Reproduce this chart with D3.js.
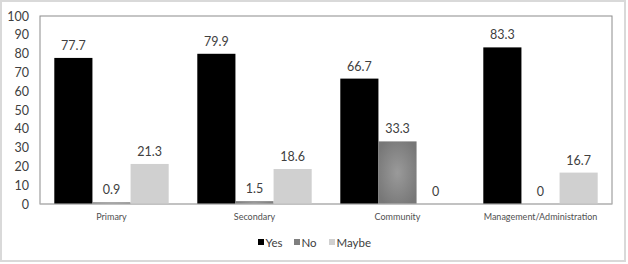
<!DOCTYPE html>
<html>
<head>
<meta charset="utf-8">
<script src="https://cdn.jsdelivr.net/npm/d3@7"></script>
<style>
  body { margin: 0; background: #fff; }
  svg text { font-family: Lato, "Open Sans", sans-serif; }
</style>
</head>
<body>
<div id="chart"></div>
<script>
// data
const categories = ["Primary", "Secondary", "Community", "Management/Administration"];
const seriesNames = ["Yes", "No", "Maybe"];
const yesValues = [77.7, 79.9, 66.7, 83.3];
const noValues = [0.9, 1.5, 33.3, 0];
const maybeValues = [21.3, 18.6, 0, 16.7];
const yTicks = [0, 10, 20, 30, 40, 50, 60, 70, 80, 90, 100];

const seriesValues = [yesValues, noValues, maybeValues];
const colors = ["#000000", "url(#noGrad)", "#d0d0d0"];
const legendColors = ["#000000", "#7f7f7f", "#d0d0d0"];

const width = 628, height = 264;
const plot = { left: 40, right: 612, top: 16, bottom: 204 };

const svg = d3.select("#chart")
  .append("svg")
  .attr("width", width)
  .attr("height", height);

// gradient for the "No" bars
const grad = svg.append("defs").append("radialGradient")
  .attr("id", "noGrad")
  .attr("cx", "50%").attr("cy", "50%").attr("r", "60%");
grad.append("stop").attr("offset", "0%").attr("stop-color", "#9a9a9a");
grad.append("stop").attr("offset", "100%").attr("stop-color", "#777777");

// outer frame
svg.append("rect")
  .attr("x", 1).attr("y", 1)
  .attr("width", width - 4).attr("height", height - 4)
  .attr("fill", "#fff")
  .attr("stroke", "#d9d9d9")
  .attr("stroke-width", 2);

const x0 = d3.scaleBand()
  .domain(categories)
  .range([plot.left, plot.right])
  .paddingInner(0.2)
  .paddingOuter(0.1);

const x1 = d3.scaleBand()
  .domain(seriesNames)
  .range([0, x0.bandwidth()])
  .padding(0);

const y = d3.scaleLinear()
  .domain([0, 100])
  .range([plot.bottom, plot.top]);

// plot frame
svg.append("rect")
  .attr("x", plot.left).attr("y", plot.top)
  .attr("width", plot.right - plot.left)
  .attr("height", plot.bottom - plot.top)
  .attr("fill", "none")
  .attr("stroke", "#8c8c8c")
  .attr("stroke-width", 1);

// y axis labels
const yAxis = d3.axisLeft(y).tickValues(yTicks).tickSize(0).tickPadding(11);
const gy = svg.append("g")
  .attr("transform", "translate(" + plot.left + ",0)")
  .call(yAxis);
gy.select(".domain").remove();
gy.selectAll("text")
  .attr("fill", "#404040")
  .style("font-size", "12.5px");

// bars
const groups = svg.append("g")
  .selectAll("g")
  .data(categories)
  .join("g")
  .attr("transform", d => "translate(" + x0(d) + ",0)");

groups.selectAll("rect")
  .data((d, i) => seriesNames.map((s, j) => ({ s: s, j: j, v: seriesValues[j][i] })))
  .join("rect")
  .attr("x", d => x1(d.s))
  .attr("y", d => y(d.v))
  .attr("width", x1.bandwidth())
  .attr("height", d => y(0) - y(d.v))
  .attr("fill", d => colors[d.j]);

groups.selectAll("text")
  .data((d, i) => seriesNames.map((s, j) => ({ s: s, j: j, v: seriesValues[j][i] })))
  .join("text")
  .attr("x", d => x1(d.s) + x1.bandwidth() / 2)
  .attr("y", d => y(d.v) - 8)
  .attr("text-anchor", "middle")
  .attr("fill", "#404040")
  .style("font-size", "12.5px")
  .text(d => d.v);

// baseline
svg.append("line")
  .attr("x1", plot.left).attr("x2", plot.right)
  .attr("y1", y(0)).attr("y2", y(0))
  .attr("stroke", "#bfbfbf");

// category labels
svg.append("g")
  .selectAll("text")
  .data(categories)
  .join("text")
  .attr("x", d => x0(d) + x0.bandwidth() / 2)
  .attr("y", plot.bottom + 16)
  .attr("text-anchor", "middle")
  .attr("fill", "#505050")
  .style("font-size", "9px")
  .text(d => d);

// legend
const legendX = [258, 294, 329];
const legend = svg.append("g")
  .selectAll("g")
  .data(seriesNames)
  .join("g")
  .attr("transform", (d, i) => "translate(" + legendX[i] + ",239)");

legend.append("rect")
  .attr("width", 6).attr("height", 6)
  .attr("fill", (d, i) => legendColors[i]);

legend.append("text")
  .attr("x", 7.5).attr("y", 7.5)
  .attr("fill", "#404040")
  .style("font-size", "11.5px")
  .text(d => d);
</script>
</body>
</html>
